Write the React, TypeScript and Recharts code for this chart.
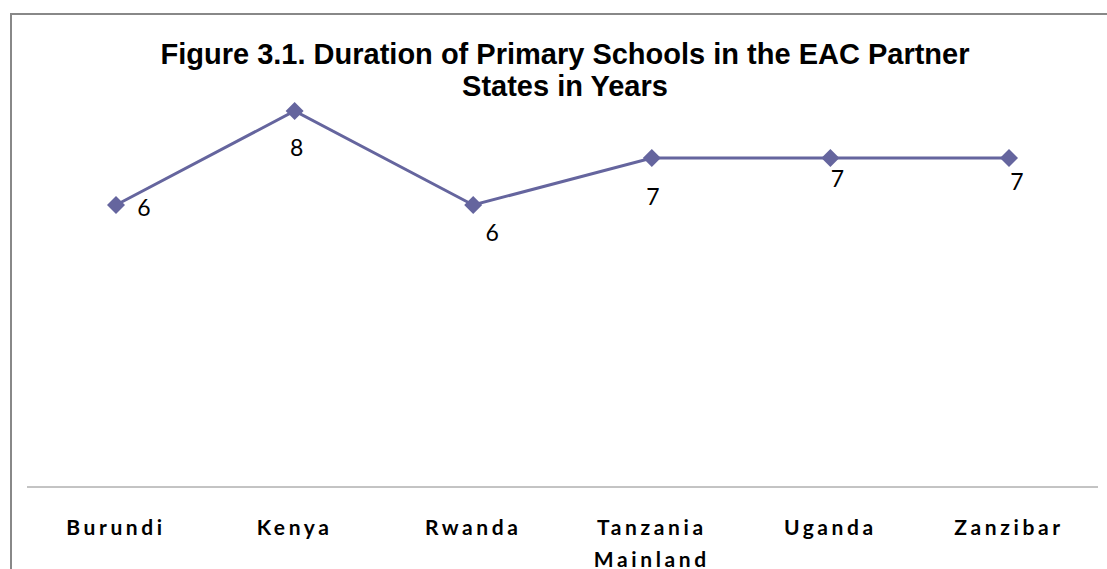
import React from "react"
import { LineChart, Line, XAxis, YAxis } from "recharts"

const countries = ["Burundi", "Kenya", "Rwanda", "Tanzania Mainland", "Uganda", "Zanzibar"]
const years = [6, 8, 6, 7, 7, 7]

// where each data label sits relative to its marker (hand placed in the original)
const labelOffsets: [number, number][] = [
  [28, 2],
  [2, 36],
  [19, 27],
  [1, 38],
  [7, 20],
  [8, 23],
]

const LINE_COLOR = "#65659e"
const data = countries.map((name, i) => ({ name, years: years[i] }))

function Diamond(props: any) {
  const { cx, cy } = props
  if (cx == null || cy == null) return null
  const r = 9
  return (
    <polygon
      points={`${cx},${cy - r} ${cx + r},${cy} ${cx},${cy + r} ${cx - r},${cy}`}
      fill={LINE_COLOR}
    />
  )
}

function PointLabel(props: any) {
  const { x, y, value, index } = props
  const [dx, dy] = labelOffsets[index] ?? [0, 30]
  return (
    <text
      x={x + dx}
      y={y + dy}
      textAnchor="middle"
      dominantBaseline="central"
      fontFamily="Lato, 'Open Sans', sans-serif"
      fontSize={23}
      fill="#000"
    >
      {value}
    </text>
  )
}

function CountryTick(props: any) {
  const { x, y, payload } = props
  const words = String(payload.value).split(" ")
  return (
    <text
      x={x}
      y={y}
      textAnchor="middle"
      fontFamily="Lato, 'Open Sans', sans-serif"
      fontWeight="bold"
      fontSize={21}
      letterSpacing={3.6}
      fill="#000"
    >
      {words.map((w, i) => (
        <tspan key={w} x={x} dy={i === 0 ? 40 : 32}>
          {w}
        </tspan>
      ))}
    </text>
  )
}

export default function App() {
  return (
    <div style={{ position: "absolute", left: 0, top: 0, width: 1107, height: 569, background: "#fff", overflow: "hidden" }}>
      <div
        style={{
          position: "absolute",
          left: 10,
          top: 13,
          width: 1200,
          height: 700,
          border: "2px solid #888",
          boxSizing: "border-box",
        }}
      />
      <div
        style={{
          position: "absolute",
          left: 0,
          top: 38,
          width: 1130,
          textAlign: "center",
          fontFamily: "'Liberation Sans', Arial, sans-serif",
          fontWeight: "bold",
          fontSize: 29,
          lineHeight: "32px",
          color: "#000",
        }}
      >
        Figure 3.1. Duration of Primary Schools in the EAC Partner
        <br />
        States in Years
      </div>
      <div style={{ position: "absolute", left: 0, top: 0 }}>
        <LineChart width={1107} height={569} data={data} margin={{ top: 64, right: 9, bottom: 22, left: 27 }}>
          <XAxis
            dataKey="name"
            height={60}
            axisLine={{ stroke: "#888", strokeWidth: 1 }}
            tickLine={false}
            tick={<CountryTick />}
            interval={0}
            padding={{ left: 89, right: 89 }}
          />
          <YAxis hide domain={[0, 9]} />
          <Line
            type="linear"
            dataKey="years"
            stroke={LINE_COLOR}
            strokeWidth={3}
            dot={<Diamond />}
            activeDot={false}
            label={<PointLabel />}
            isAnimationActive={false}
          />
        </LineChart>
      </div>
    </div>
  )
}
